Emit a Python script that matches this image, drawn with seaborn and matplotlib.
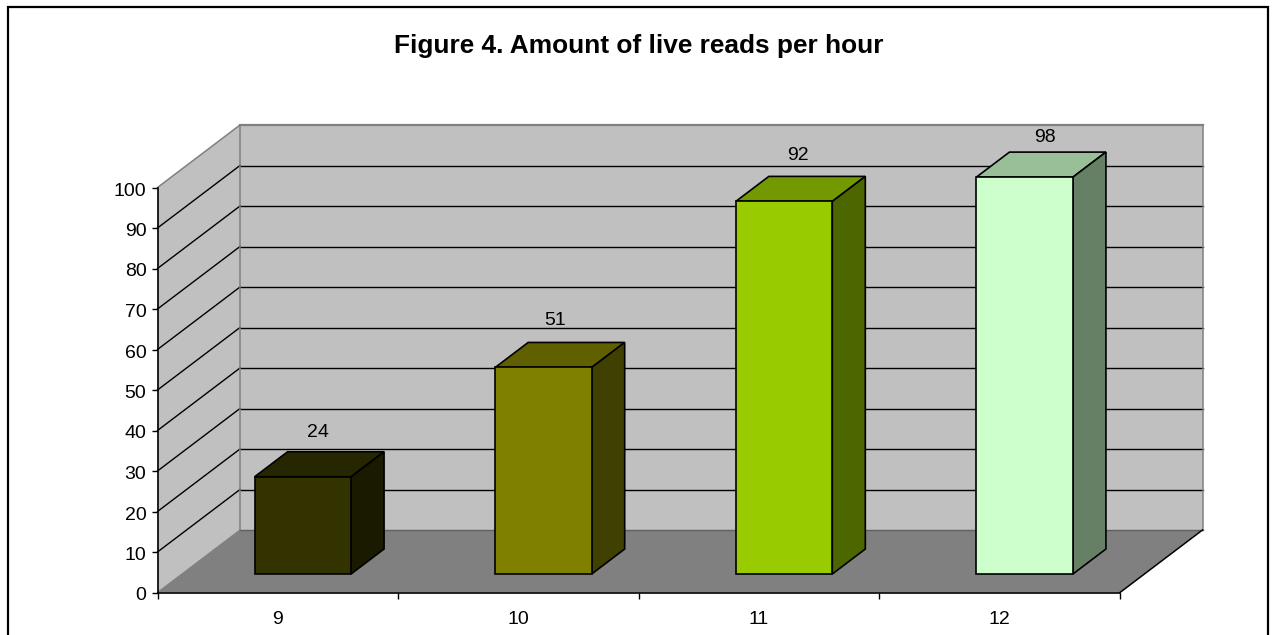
import matplotlib
matplotlib.use("Agg")
import matplotlib.pyplot as plt
import seaborn as sns
from matplotlib.lines import Line2D
from matplotlib.patches import Polygon, Rectangle
from matplotlib.transforms import Affine2D

hours = ["9", "10", "11", "12"]
live_reads = [24, 51, 92, 98]
face_colors = ["#333300", "#808000", "#99CC00", "#CCFFCC"]
top_colors = ["#262600", "#606000", "#739900", "#99BF99"]
side_colors = ["#1A1A00", "#404000", "#4C6600", "#668066"]
value_ticks = list(range(0, 101, 10))
title_text = "Figure 4. Amount of live reads per hour"

sns.set_theme(style="white", rc={"axes.facecolor": "none", "figure.facecolor": "white"})
plt.rcParams["font.family"] = ["Liberation Sans", "DejaVu Sans"]

W, H = 1272, 635
fig = plt.figure(figsize=(W / 100, H / 100), dpi=100)
ax = fig.add_axes([157.5 / W, 42.5 / H, 962.5 / W, 405 / H])
ax.set_xlim(-0.5, 3.5)
ax.set_ylim(0, 100)

# Scale factors between data units and pixels for the oblique projection
px_x = 962.5 / 4
px_y = 405 / 100
wall_dx, wall_dy = 82.5 / px_x, 62.5 / px_y
bar_dx, bar_dy = 25.0 / px_x, 18.5 / px_y
depth_dx, depth_dy = 33.0 / px_x, 25.0 / px_y
bar_width = 96.5 / px_x


def face(points, color, edge="none", lw=0, z=1):
    ax.add_patch(Polygon(points, closed=True, facecolor=color, edgecolor=edge,
                         linewidth=lw, clip_on=False, zorder=z, joinstyle="miter"))


def segment(x0, y0, x1, y1, color="black", lw=1.0, z=2):
    ax.add_line(Line2D([x0, x1], [y0, y1], color=color, lw=lw, clip_on=False,
                       zorder=z, solid_capstyle="projecting"))


# Chart frame, running past the lower edge of the figure
fig.add_artist(Rectangle((7.5 / W, -0.02), 1260 / W, 1.02 - 6.5 / H, fill=False,
                         edgecolor="black", linewidth=1.6,
                         transform=fig.transFigure))

# Back wall, side wall and floor
x0, x1 = -0.5, 3.5
face([(x0 + wall_dx, wall_dy), (x1 + wall_dx, wall_dy),
      (x1 + wall_dx, 100 + wall_dy), (x0 + wall_dx, 100 + wall_dy)], "#C0C0C0")
face([(x0, 0), (x0 + wall_dx, wall_dy), (x0 + wall_dx, 100 + wall_dy), (x0, 100)], "#C0C0C0")
face([(x0, 0), (x1, 0), (x1 + wall_dx, wall_dy), (x0 + wall_dx, wall_dy)], "#808080")

# Gridlines across both walls
for v in value_ticks[1:-1]:
    segment(x0, v, x0 + wall_dx, v + wall_dy, lw=1.0)
    segment(x0 + wall_dx, v + wall_dy, x1 + wall_dx, v + wall_dy, lw=1.0)

# Wall outlines
segment(x0, 100, x0 + wall_dx, 100 + wall_dy, color="#808080", lw=1.1)
segment(x0 + wall_dx, 100 + wall_dy, x1 + wall_dx, 100 + wall_dy, color="#808080", lw=1.6)
segment(x0 + wall_dx, wall_dy, x0 + wall_dx, 100 + wall_dy, color="#808080", lw=1.1)
segment(x1 + wall_dx, wall_dy, x1 + wall_dx, 100 + wall_dy, color="#808080", lw=1.1)
segment(x0 + wall_dx, wall_dy, x1 + wall_dx, wall_dy, color="#606060", lw=1.0)
segment(x0, 0, x0 + wall_dx, wall_dy, color="#808080", lw=0.9)
segment(x1, 0, x1 + wall_dx, wall_dy, lw=1.1)

# Front faces of the columns come from seaborn, shifted back onto the floor
sns.barplot(x=hours, y=live_reads, hue=hours, order=hours, hue_order=hours,
            palette=dict(zip(hours, face_colors)), saturation=1, legend=False,
            dodge=False, width=bar_width, edgecolor="black", linewidth=1.2, ax=ax)
shift = Affine2D().translate(bar_dx * px_x, bar_dy * px_y)
for bar in ax.patches:
    if isinstance(bar, Rectangle):
        bar.set_transform(ax.transData + shift)
        bar.set_clip_on(False)
        bar.set_zorder(5)

# Top and side faces, plus value labels with a per-column pixel nudge
label_nudges = [(0, -3), (-4, 0), (-2, -1), (5, -1)]
for i, value in enumerate(live_reads):
    left = i - bar_width / 2 + bar_dx
    right = i + bar_width / 2 + bar_dx
    base = bar_dy
    top = value + bar_dy
    face([(left, top), (right, top), (right + depth_dx, top + depth_dy),
          (left + depth_dx, top + depth_dy)], top_colors[i], "black", 1.2, 4)
    face([(right, base), (right + depth_dx, base + depth_dy),
          (right + depth_dx, top + depth_dy), (right, top)], side_colors[i], "black", 1.2, 4)
    nudge_x, nudge_y = label_nudges[i]
    ax.text(i + bar_dx + (15.5 + nudge_x) / px_x,
            min(top + 11.7, 112.7) + nudge_y / px_y, str(value), ha="center",
            va="center", fontsize=14, color="black", zorder=6, clip_on=False)

# Axes in the front plane
sns.despine(ax=ax, left=True, bottom=True, right=True, top=True)
segment(x0, 0, x1, 0, lw=1.2, z=3)
segment(x0, 0, x0, 100, lw=1.2, z=3)
ax.set_xlabel("")
ax.set_ylabel("")
ax.set_yticks(value_ticks)
ax.set_yticklabels([str(v) for v in value_ticks])
ax.set_xticks(range(len(hours)))
ax.set_xticklabels(hours)
ax.set_xticks([x0 + k for k in range(5)], minor=True)
ax.tick_params(axis="y", which="major", left=True, length=4.5, width=1.0, color="black",
               labelsize=14, labelcolor="black", pad=3.5)
ax.tick_params(axis="x", which="major", bottom=False, labelsize=14, labelcolor="black", pad=7)
ax.tick_params(axis="x", which="minor", bottom=True, length=4.5, width=1.0, color="black")
for label in ax.get_yticklabels():
    label.set_transform(label.get_transform() + Affine2D().translate(0, -1.5))

fig.text(639 / W, 1 - 46 / H, title_text, ha="center", va="center",
         fontsize=18.9, fontweight="bold", color="black")

fig.savefig("out.png", dpi=100)
